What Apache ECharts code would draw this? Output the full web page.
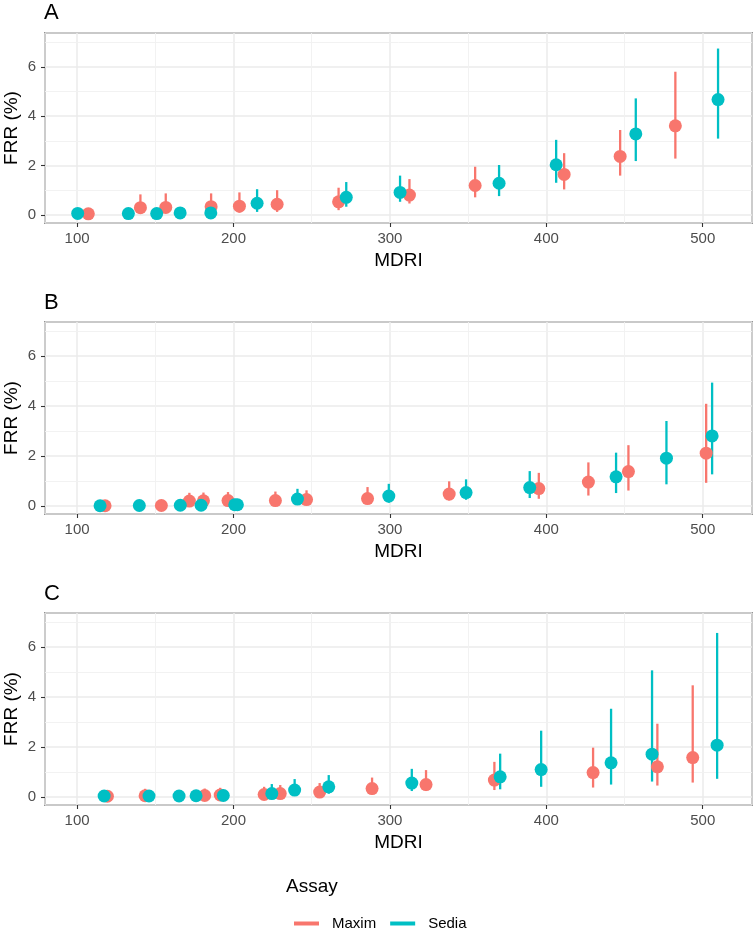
<!DOCTYPE html>
<html>
<head>
<meta charset="utf-8">
<script src="https://cdn.jsdelivr.net/npm/echarts@6/dist/echarts.min.js"></script>
<style>html,body{margin:0;padding:0;background:#fff}#c{width:755px;height:932px}</style>
</head>
<body>
<div id="c"></div>
<script>
// ---- Data ----
const panelLabels = ['A', 'B', 'C'];
const assays = ['Maxim', 'Sedia'];

// Panel A
const aMaximMdri = [107.2, 140.5, 156.7, 185.7, 203.8, 227.9, 267.2, 312.5, 354.5, 411.4, 447.2, 482.5];
const aMaximFrr  = [0.04, 0.29, 0.30, 0.33, 0.35, 0.43, 0.53, 0.80, 1.19, 1.64, 2.37, 3.61];
const aMaximLo   = [0.00, 0.06, 0.07, 0.08, 0.09, 0.12, 0.19, 0.46, 0.71, 1.03, 1.59, 2.28];
const aMaximHi   = [0.25, 0.83, 0.87, 0.87, 0.91, 1.00, 1.10, 1.45, 1.95, 2.50, 3.44, 5.80];
const aSediaMdri = [100.4, 132.8, 150.9, 165.9, 185.5, 215.1, 272.1, 306.5, 369.8, 406.3, 457.2, 509.8];
const aSediaFrr  = [0.06, 0.05, 0.05, 0.08, 0.08, 0.47, 0.71, 0.91, 1.28, 2.03, 3.28, 4.67];
const aSediaLo   = [0.00, 0.00, 0.00, 0.01, 0.01, 0.12, 0.33, 0.53, 0.76, 1.30, 2.18, 3.09];
const aSediaHi   = [0.22, 0.20, 0.20, 0.25, 0.25, 1.04, 1.33, 1.59, 2.02, 3.04, 4.72, 6.74];

// Panel B
const bMaximMdri = [117.9, 153.9, 171.8, 180.8, 196.5, 226.8, 246.7, 285.7, 337.9, 395.2, 426.9, 452.5, 502.2];
const bMaximFrr  = [0.00, 0.01, 0.19, 0.20, 0.21, 0.21, 0.25, 0.29, 0.47, 0.69, 0.95, 1.37, 2.11];
const bMaximLo   = [0.00, 0.00, 0.03, 0.03, 0.04, 0.04, 0.05, 0.07, 0.21, 0.28, 0.41, 0.61, 0.92];
const bMaximHi   = [0.15, 0.18, 0.52, 0.53, 0.55, 0.57, 0.62, 0.75, 0.98, 1.32, 1.74, 2.43, 4.09];
const bSediaMdri = [114.7, 139.8, 166.0, 179.3, 200.8, 202.5, 240.9, 299.3, 348.7, 389.4, 444.6, 476.8, 506.0];
const bSediaFrr  = [0.00, 0.01, 0.02, 0.02, 0.04, 0.04, 0.27, 0.39, 0.53, 0.73, 1.16, 1.91, 2.80];
const bSediaLo   = [0.00, 0.00, 0.00, 0.00, 0.00, 0.00, 0.05, 0.12, 0.24, 0.31, 0.51, 0.86, 1.26];
const bSediaHi   = [0.15, 0.15, 0.17, 0.17, 0.20, 0.20, 0.68, 0.88, 1.06, 1.39, 2.13, 3.40, 4.94];

// Panel C
const cMaximMdri = [119.4, 143.5, 181.6, 191.5, 219.6, 229.9, 255.1, 288.6, 323.1, 366.8, 429.9, 471.0, 493.6];
const cMaximFrr  = [0.02, 0.04, 0.05, 0.07, 0.09, 0.13, 0.19, 0.33, 0.49, 0.67, 0.97, 1.20, 1.57];
const cMaximLo   = [0.00, 0.00, 0.00, 0.00, 0.01, 0.02, 0.04, 0.09, 0.23, 0.27, 0.37, 0.45, 0.57];
const cMaximHi   = [0.18, 0.32, 0.33, 0.36, 0.40, 0.47, 0.55, 0.77, 1.07, 1.40, 1.97, 2.93, 4.47];
const cSediaMdri = [117.3, 146.0, 165.2, 176.1, 193.5, 224.5, 239.1, 260.9, 314.0, 370.5, 396.7, 441.4, 467.6, 509.2];
const cSediaFrr  = [0.03, 0.03, 0.03, 0.04, 0.05, 0.13, 0.27, 0.40, 0.55, 0.80, 1.09, 1.36, 1.71, 2.07];
const cSediaLo   = [0.00, 0.00, 0.00, 0.00, 0.00, 0.02, 0.07, 0.12, 0.23, 0.30, 0.40, 0.49, 0.61, 0.72];
const cSediaHi   = [0.15, 0.15, 0.15, 0.17, 0.20, 0.51, 0.71, 0.87, 1.12, 1.73, 2.65, 3.53, 5.07, 6.57];

const xMinorLines = [150, 250, 350, 450];
const yMinorLines = [1, 3, 5, 7];

// ---- Build chart ----
const panels = [
  { Maxim: [aMaximMdri, aMaximFrr, aMaximLo, aMaximHi], Sedia: [aSediaMdri, aSediaFrr, aSediaLo, aSediaHi] },
  { Maxim: [bMaximMdri, bMaximFrr, bMaximLo, bMaximHi], Sedia: [bSediaMdri, bSediaFrr, bSediaLo, bSediaHi] },
  { Maxim: [cMaximMdri, cMaximFrr, cMaximLo, cMaximHi], Sedia: [cSediaMdri, cSediaFrr, cSediaLo, cSediaHi] }
];
const colors = { Maxim: '#F8766D', Sedia: '#00BFC4' };
const FONT = "'Liberation Sans', Arial, Helvetica, sans-serif";
const gridTops = [33, 322, 613];
const gridHeights = [190, 192, 192];
const titleTops = [2, 292, 583];

const grids = [], xAxes = [], yAxes = [], series = [], titles = [];
panels.forEach((p, i) => {
  grids.push({ left: 45, right: 3, top: gridTops[i], height: gridHeights[i], show: true,
    borderColor: '#333333', borderWidth: 1.4, backgroundColor: '#fff', containLabel: false,
    outerBoundsMode: 'none' });
  titles.push({ text: panelLabels[i], left: 44, top: titleTops[i], padding: 0,
    textStyle: { fontFamily: FONT, fontSize: 22, fontWeight: 'normal', color: '#000' } });
  xAxes.push({ type: 'value', gridIndex: i, min: 79.5, max: 531.5, splitNumber: 5,
    name: 'MDRI', nameLocation: 'middle', nameGap: 28, nameMoveOverlap: false,
    nameTextStyle: { fontFamily: FONT, fontSize: 19, color: '#000' },
    axisLine: { show: false, onZero: false },
    axisTick: { show: true, length: 4, lineStyle: { color: '#333333', width: 1.1 } },
    axisLabel: { fontFamily: FONT, fontSize: 15, color: '#4D4D4D', margin: 8, showMinLabel: false, showMaxLabel: false,
      formatter: v => (v % 100 === 0 ? String(v) : '') },
    splitLine: { show: true, lineStyle: { color: '#EBEBEB', width: 1.5 } } });
  yAxes.push({ type: 'value', gridIndex: i, min: -0.33, max: 7.37, splitNumber: 4,
    name: 'FRR (%)', nameLocation: 'middle', nameGap: 24, nameMoveOverlap: false,
    nameTextStyle: { fontFamily: FONT, fontSize: 19, color: '#000' },
    axisLine: { show: false, onZero: false },
    axisTick: { show: true, length: 4, lineStyle: { color: '#333333', width: 1.1 } },
    axisLabel: { fontFamily: FONT, fontSize: 15, color: '#4D4D4D', margin: 9, showMinLabel: false, showMaxLabel: false,
      formatter: v => (v % 2 === 0 ? String(v) : '') },
    splitLine: { show: true, lineStyle: { color: '#EBEBEB', width: 1.5 } } });

  // minor grid lines (style only), kept beneath the marks
  series.push({ type: 'line', xAxisIndex: i, yAxisIndex: i, data: [], silent: true, z: 1,
    markLine: { z: 1, silent: true, symbol: 'none', animation: false, label: { show: false },
      lineStyle: { color: '#F0F0F0', width: 0.9, type: 'solid' },
      data: xMinorLines.map(v => ({ xAxis: v })).concat(yMinorLines.map(v => ({ yAxis: v }))) } });

  // error bars (all lines first, as in ggplot pointrange)
  assays.forEach(a => {
    const [m, f, lo, hi] = p[a];
    series.push({ name: a, type: 'custom', xAxisIndex: i, yAxisIndex: i, z: 3, clip: true,
      itemStyle: { color: colors[a] },
      encode: { x: 0, y: [1, 2] },
      data: m.map((x, k) => [x, lo[k], hi[k]]),
      renderItem: (params, api) => {
        const p1 = api.coord([api.value(0), api.value(1)]);
        const p2 = api.coord([api.value(0), api.value(2)]);
        return { type: 'line', shape: { x1: p1[0], y1: p1[1], x2: p2[0], y2: p2[1] },
          style: { stroke: colors[a], lineWidth: 2.3 } };
      } });
  });
  assays.forEach(a => {
    const [m, f] = p[a];
    series.push({ name: a, type: 'scatter', xAxisIndex: i, yAxisIndex: i, z: 4,
      symbol: 'circle', symbolSize: 13, itemStyle: { color: colors[a], opacity: 1 },
      data: m.map((x, k) => [x, f[k]]) });
  });
});

titles.push({ text: 'Assay', left: 286, top: 877, padding: 0,
  textStyle: { fontFamily: FONT, fontSize: 19, fontWeight: 'normal', color: '#000' } });

const chart = echarts.init(document.getElementById('c'), null, { renderer: 'canvas' });
chart.setOption({
  animation: false,
  backgroundColor: '#fff',
  title: titles,
  grid: grids,
  xAxis: xAxes,
  yAxis: yAxes,
  legend: { left: 289, top: 911, orient: 'horizontal', itemGap: 14, itemWidth: 25, itemHeight: 4,
    icon: 'rect', selectedMode: false,
    data: [{ name: 'Maxim', itemStyle: { color: colors.Maxim } }, { name: 'Sedia', itemStyle: { color: colors.Sedia } }],
    textStyle: { fontFamily: FONT, fontSize: 15, color: '#000', padding: [0, 0, 0, 8] } },
  series: series
});
</script>
</body>
</html>
